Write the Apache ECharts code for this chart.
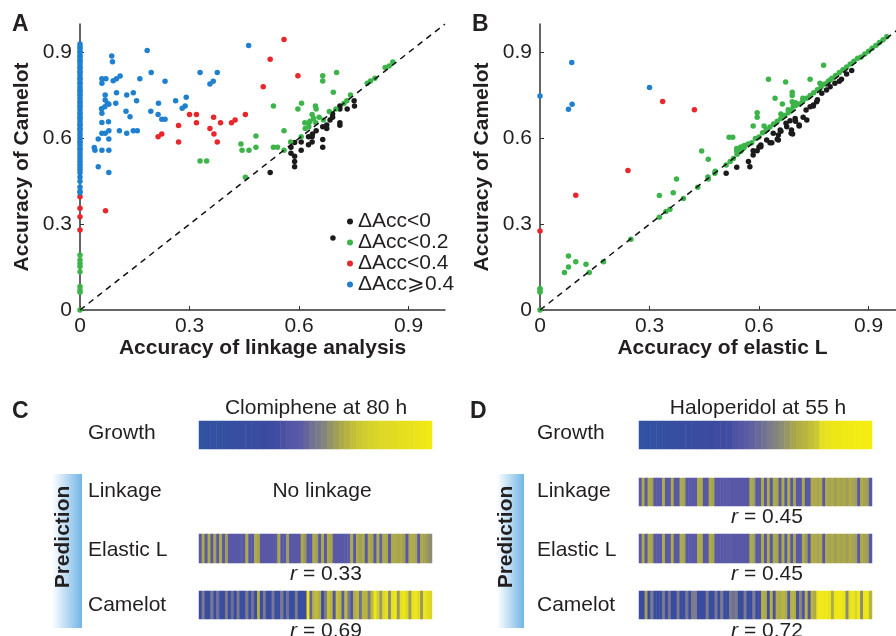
<!DOCTYPE html>
<html>
<head>
<meta charset="UTF-8">
<title>Camelot accuracy</title>
<script src="https://cdn.jsdelivr.net/npm/echarts@6/dist/echarts.min.js"></script>
<style>
  body { margin: 0; background: #fff; }
  #main { width: 896px; height: 636px; }
</style>
</head>
<body>
<div id="main"></div>
<script>
  // ---- data ----
  var ticks = [0, 0.3, 0.6, 0.9];
  var legendNames = ['ΔAcc<0', 'ΔAcc<0.2', 'ΔAcc<0.4', 'ΔAcc⩾0.4'];
  var dotColors = ['#1b1b1b', '#3cb449', '#e8262b', '#1f80cf'];

  // panel A: linkage (x) vs Camelot (y)
  var aBlack = [[0.751,0.732],[0.752,0.713],[0.732,0.703],[0.712,0.703],[0.712,0.713],[0.692,0.685],[0.692,0.674],
    [0.685,0.664],[0.712,0.655],[0.712,0.646],[0.676,0.647],[0.676,0.635],[0.665,0.641],[0.647,0.627],[0.637,0.615],
    [0.636,0.606],[0.626,0.606],[0.636,0.587],[0.626,0.578],[0.606,0.587],[0.665,0.596],[0.665,0.569],[0.588,0.586],
    [0.578,0.569],[0.606,0.559],[0.578,0.548],[0.588,0.538],[0.588,0.519],[0.588,0.501],[0.521,0.481],[0.693,0.252]];
  var aGreen = [[0,0.192],[0,0.175],[0,0.163],[0,0.152],[0,0.134],[0,0.082],[0,0.07],[0,0.062],[0,0],
    [0.329,0.521],[0.347,0.521],[0.453,0.464],[0.441,0.58],[0.444,0.559],[0.463,0.559],[0.482,0.608],[0.482,0.569],
    [0.53,0.713],[0.53,0.569],[0.541,0.569],[0.559,0.559],[0.559,0.627],[0.577,0.587],[0.597,0.703],[0.607,0.723],
    [0.606,0.606],[0.616,0.655],[0.617,0.635],[0.627,0.655],[0.627,0.641],[0.636,0.684],[0.645,0.713],[0.647,0.703],
    [0.646,0.655],[0.655,0.674],[0.667,0.664],[0.64,0.67],[0.63,0.66],[0.665,0.819],[0.665,0.801],[0.683,0.694],
    [0.694,0.761],[0.701,0.703],[0.703,0.83],[0.723,0.722],[0.731,0.732],[0.741,0.752],[0.787,0.793],[0.796,0.801],
    [0.808,0.81],[0.836,0.848],[0.847,0.853],[0.857,0.867]];
  var aRed = [[0.559,0.946],[0.521,0.877],[0.597,0.819],[0.502,0.781],[0.3,0.684],[0.319,0.684],[0.319,0.655],
    [0.366,0.674],[0.385,0.655],[0.415,0.655],[0.425,0.664],[0.453,0.684],[0.27,0.645],[0.356,0.635],[0.367,0.615],
    [0.224,0.615],[0.214,0.606],[0.27,0.587],[0.376,0.587],[0.07,0.347],[0,0.396],[0,0.356],[0,0.326],[0,0.28]];
  var aBlue = [[0,0.93],[0,0.92],[0,0.915],[0,0.905],[0,0.9],[0,0.89],[0,0.885],[0,0.875],[0,0.87],[0,0.86],
    [0,0.85],[0,0.845],[0,0.835],[0,0.83],[0,0.82],[0,0.81],[0,0.805],[0,0.795],[0,0.79],[0,0.78],[0,0.77],
    [0,0.765],[0,0.755],[0,0.75],[0,0.74],[0,0.73],[0,0.725],[0,0.715],[0,0.71],[0,0.7],[0,0.69],[0,0.685],
    [0,0.675],[0,0.67],[0,0.66],[0,0.65],[0,0.645],[0,0.635],[0,0.63],[0,0.62],[0,0.61],[0,0.6],[0,0.59],
    [0,0.585],[0,0.575],[0,0.565],[0,0.56],[0,0.55],[0,0.54],[0,0.53],[0,0.52],[0,0.51],[0,0.5],[0,0.49],
    [0,0.48],[0,0.465],[0,0.45],[0,0.43],[0,0.415],[0,0.41],
    [0.087,0.888],[0.089,0.868],[0.184,0.907],[0.462,0.925],[0.195,0.83],[0.329,0.83],[0.376,0.83],[0.365,0.8],
    [0.356,0.79],[0.233,0.8],[0.164,0.809],[0.11,0.818],[0.1,0.809],[0.091,0.802],[0.06,0.809],[0.071,0.809],
    [0.06,0.793],[0.1,0.76],[0.069,0.752],[0.128,0.752],[0.146,0.76],[0.155,0.732],[0.069,0.734],[0.075,0.723],
    [0.079,0.719],[0.068,0.711],[0.059,0.704],[0.098,0.723],[0.215,0.723],[0.262,0.732],[0.291,0.744],[0.28,0.705],
    [0.288,0.713],[0.126,0.695],[0.194,0.695],[0.214,0.684],[0.224,0.667],[0.233,0.667],[0.137,0.676],[0.06,0.688],
    [0.06,0.656],[0.078,0.658],[0.079,0.627],[0.06,0.618],[0.069,0.618],[0.108,0.627],[0.128,0.618],[0.146,0.627],
    [0.157,0.627],[0.05,0.598],[0.079,0.598],[0.039,0.568],[0.041,0.559],[0.06,0.559],[0.079,0.559],[0.05,0.501],
    [0.079,0.481]];

  // panel B: elastic L (x) vs Camelot (y)
  var bBlack = [[0.51,0.478],[0.539,0.499],[0.571,0.519],[0.575,0.501],[0.584,0.542],[0.595,0.557],[0.605,0.577],
    [0.621,0.594],[0.635,0.585],[0.639,0.618],[0.653,0.612],[0.65,0.597],[0.658,0.629],[0.676,0.641],[0.674,0.653],
    [0.689,0.629],[0.692,0.615],[0.685,0.662],[0.699,0.67],[0.71,0.643],[0.721,0.674],[0.731,0.664],[0.729,0.699],
    [0.749,0.713],[0.758,0.728],[0.772,0.758],[0.785,0.769],[0.795,0.781],[0.808,0.793],[0.826,0.807],[0.854,0.837],
    [0.74,0.711],[0.749,0.717],[0.71,0.647],[0.688,0.618],[0.653,0.594],[0.63,0.585],[0.605,0.571],[0.584,0.557],
    [0.7,0.66],[0.66,0.625],[0.6,0.57],[0.76,0.735],[0.82,0.8],[0.84,0.825]];
  var bGreen = [[0,0.075],[0,0.07],[0,0.062],[0,0],[0.078,0.189],[0.078,0.15],[0.067,0.131],[0.098,0.169],
    [0.126,0.16],[0.135,0.131],[0.174,0.169],[0.249,0.247],[0.327,0.324],[0.327,0.4],[0.345,0.344],[0.356,0.352],
    [0.365,0.41],[0.374,0.458],[0.393,0.39],[0.432,0.429],[0.443,0.556],[0.461,0.527],[0.461,0.458],[0.479,0.478],
    [0.51,0.507],[0.521,0.519],[0.53,0.53],[0.518,0.604],[0.528,0.604],[0.539,0.565],[0.539,0.556],[0.557,0.565],
    [0.584,0.643],[0.595,0.674],[0.595,0.69],[0.614,0.643],[0.626,0.807],[0.644,0.74],[0.664,0.72],[0.673,0.797],
    [0.691,0.761],[0.691,0.75],[0.691,0.728],[0.694,0.713],[0.74,0.807],[0.777,0.856],[0.767,0.793],[0.795,0.804],
    [0.54,0.545],[0.55,0.555],[0.56,0.57],[0.57,0.58],[0.58,0.585],[0.59,0.6],[0.6,0.605],[0.61,0.62],[0.62,0.63],
    [0.63,0.64],[0.64,0.65],[0.65,0.66],[0.66,0.67],[0.67,0.68],[0.68,0.69],[0.69,0.7],[0.7,0.715],[0.71,0.72],
    [0.72,0.73],[0.73,0.74],[0.74,0.75],[0.75,0.76],[0.76,0.77],[0.77,0.78],[0.78,0.79],[0.79,0.8],[0.8,0.81],
    [0.81,0.82],[0.82,0.83],[0.83,0.84],[0.84,0.85],[0.85,0.86],[0.86,0.87],[0.87,0.88],[0.88,0.885],[0.89,0.895],
    [0.9,0.905],[0.91,0.915],[0.92,0.925],[0.93,0.935],[0.94,0.945],[0.95,0.955],[0.46,0.465],[0.48,0.485],
    [0.55,0.57],[0.56,0.575],[0.66,0.685],[0.68,0.7],[0.72,0.74],[0.7,0.725]];
  var bRed = [[0,0.276],[0.098,0.401],[0.241,0.488],[0.336,0.729],[0.423,0.7]];
  var bBlue = [[0,0.748],[0.087,0.865],[0.088,0.719],[0.078,0.702],[0.3,0.778]];

  // panels C and D: colour strips (0 = blue, 1 = yellow)
  var growthC = [0.04,0.05,0.06,0.07,0.08,0.09,0.1,0.11,0.12,0.13,0.14,0.16,0.18,0.2,0.25,0.3,0.33,0.35,0.4,0.46,
    0.5,0.53,0.58,0.62,0.66,0.7,0.74,0.78,0.8,0.82,0.84,0.86,0.87,0.88,0.9,0.91,0.92,0.94,0.96,0.98];
  var elasticC = [0.34,0.66,0.34,0.66,0.34,0.64,0.34,0.66,0.34,0.62,0.34,0.34,0.34,0.34,0.36,0.34,0.66,0.34,0.34,0.66,
    0.64,0.34,0.34,0.34,0.34,0.34,0.36,0.66,0.34,0.34,0.62,0.34,0.34,0.34,0.34,0.66,0.6,0.34,0.34,0.66,
    0.62,0.34,0.66,0.34,0.66,0.64,0.34,0.34,0.34,0.34,0.34,0.36,0.66,0.34,0.66,0.62,0.66,0.34,0.66,0.64,
    0.34,0.66,0.38,0.66,0.64,0.34,0.66,0.66,0.64,0.66,0.62,0.34,0.66,0.66,0.64,0.34,0.66,0.64,0.6,0.56];
  var camelotC = [0.15,0.5,0.15,0.12,0.48,0.15,0.45,0.12,0.15,0.5,0.12,0.45,0.15,0.5,0.12,0.15,0.5,0.12,0.45,0.15,
    0.68,0.12,0.5,0.15,0.12,0.48,0.15,0.12,0.5,0.15,0.45,0.12,0.1,0.5,0.12,0.1,0.15,0.95,0.4,0.7,
    0.72,0.66,0.2,0.5,0.75,0.7,0.3,0.75,0.7,0.35,0.72,0.5,0.3,0.68,0.72,0.45,0.7,0.7,0.5,0.72,
    0.95,0.8,0.6,0.85,0.9,0.55,0.92,0.95,0.6,0.9,0.95,0.85,0.6,0.92,0.95,0.88,0.6,0.95,0.9,0.85];
  var growthD = [0.04,0.05,0.06,0.07,0.08,0.09,0.1,0.11,0.12,0.13,0.14,0.15,0.16,0.18,0.19,0.2,0.28,0.32,0.35,0.38,
    0.42,0.46,0.5,0.53,0.56,0.6,0.64,0.68,0.7,0.74,0.78,0.9,0.93,0.95,0.96,0.97,0.98,0.99,1,1];
  var linkageD = [0.34,0.66,0.34,0.66,0.64,0.34,0.34,0.34,0.66,0.34,0.34,0.66,0.34,0.34,0.66,0.64,0.34,0.34,0.34,0.34,
    0.66,0.66,0.34,0.34,0.66,0.64,0.34,0.34,0.34,0.34,0.34,0.34,0.34,0.34,0.34,0.34,0.34,0.34,0.66,0.62,
    0.34,0.34,0.66,0.34,0.66,0.34,0.66,0.64,0.34,0.66,0.34,0.66,0.34,0.64,0.34,0.34,0.66,0.34,0.34,0.66,
    0.66,0.64,0.66,0.34,0.66,0.64,0.66,0.62,0.66,0.64,0.66,0.62,0.66,0.64,0.62,0.34,0.66,0.64,0.62,0.34];
  var elasticD = [0.34,0.66,0.34,0.66,0.64,0.34,0.34,0.34,0.66,0.34,0.34,0.66,0.34,0.34,0.66,0.64,0.34,0.34,0.34,0.34,
    0.66,0.66,0.34,0.34,0.66,0.64,0.34,0.34,0.34,0.34,0.34,0.36,0.34,0.34,0.34,0.34,0.34,0.34,0.66,0.62,
    0.34,0.34,0.66,0.34,0.66,0.34,0.66,0.64,0.34,0.66,0.34,0.66,0.34,0.64,0.34,0.34,0.66,0.6,0.34,0.66,
    0.66,0.64,0.66,0.34,0.66,0.64,0.66,0.62,0.66,0.64,0.66,0.62,0.66,0.64,0.62,0.34,0.66,0.64,0.62,0.34];
  var camelotD = [0.15,0.12,0.62,0.15,0.5,0.12,0.15,0.12,0.5,0.15,0.48,0.12,0.15,0.5,0.12,0.15,0.48,0.12,0.5,0.5,
    0.15,0.12,0.15,0.5,0.12,0.15,0.48,0.12,0.5,0.15,0.12,0.5,0.45,0.5,0.12,0.15,0.5,0.12,0.15,0.5,
    0.15,0.2,0.68,0.66,0.2,0.7,0.25,0.68,0.66,0.7,0.66,0.3,0.7,0.68,0.25,0.55,0.3,0.7,0.3,0.7,
    0.66,0.95,0.97,0.95,0.96,0.92,0.68,0.95,0.97,0.95,0.93,0.55,0.9,0.96,0.85,0.95,0.55,0.96,0.95,0.7];

  var stripColors = ['#2f54a3', '#3c4a9f', '#5757a7', '#7b7b8c', '#aeac46', '#d9d52a', '#f5ed10'];
  var rowLabels = ['Growth', 'Linkage', 'Elastic L', 'Camelot'];
  var rC = ['0.33', '0.69'];
  var rD = ['0.45', '0.45', '0.72'];

  // ---- chart ----
  var FONT = "'Liberation Sans', Arial, sans-serif";
  var TXT = '#231f20';
  var chart = echarts.init(document.getElementById('main'));

  function valAxis(gridIndex, name, isY) {
    return {
      type: 'value', gridIndex: gridIndex, min: 0, max: 1,
      name: name, nameLocation: 'middle', nameGap: isY ? 47 : 28,
      nameTextStyle: { fontFamily: FONT, fontSize: 21, fontWeight: 'bold', color: TXT },
      axisLine: { show: true, lineStyle: { color: '#333', width: 1.5 } },
      axisTick: { show: true, inside: true, length: 4, customValues: ticks, lineStyle: { color: '#333' } },
      axisLabel: { customValues: ticks, fontFamily: FONT, fontSize: 21, color: TXT, margin: isY ? 8 : 6 },
      splitLine: { show: false }
    };
  }

  function scatters(sets, xi) {
    return sets.map(function (d, k) {
      return {
        type: 'scatter', name: legendNames[k], xAxisIndex: xi, yAxisIndex: xi, data: d,
        symbolSize: 5.5, clip: false, itemStyle: { color: dotColors[k], opacity: 1 }
      };
    });
  }

  function diag(xi) {
    return {
      type: 'line', xAxisIndex: xi, yAxisIndex: xi, data: [[0, 0], [1, 1]], symbol: 'none', silent: true,
      lineStyle: { color: '#111', width: 1.5, type: [6, 5] }
    };
  }

  // strips: [values, left, top, height]
  var strips = [
    [growthC, 199, 421, 28], [elasticC, 199, 534, 29], [camelotC, 199, 591, 28],
    [growthD, 639, 421, 28], [linkageD, 639, 478, 28], [elasticD, 639, 534, 29], [camelotD, 639, 591, 28]
  ];

  var grids = [
    { left: 80, top: 24, width: 365, height: 286, outerBoundsMode: 'none' },
    { left: 540, top: 24, width: 365, height: 286, outerBoundsMode: 'none' }
  ];
  var xAxes = [valAxis(0, 'Accuracy of linkage analysis', false), valAxis(1, 'Accuracy of elastic L', false)];
  var yAxes = [valAxis(0, 'Accuracy of Camelot', true), valAxis(1, 'Accuracy of Camelot', true)];
  var series = [diag(0)].concat(scatters([aBlack, aGreen, aRed, aBlue], 0))
    .concat([diag(1)]).concat(scatters([bBlack, bGreen, bRed, bBlue], 1));

  var heatIdx = [];
  strips.forEach(function (s, k) {
    var g = k + 2;
    grids.push({ left: s[1], top: s[2], width: 233, height: s[3], outerBoundsMode: 'none' });
    xAxes.push({ type: 'category', gridIndex: g, data: s[0].map(function (v, i) { return i; }), show: false });
    yAxes.push({ type: 'category', gridIndex: g, data: ['v'], show: false });
    heatIdx.push(series.length);
    series.push({
      type: 'heatmap', xAxisIndex: g, yAxisIndex: g, silent: true,
      data: s[0].map(function (v, i) { return [i, 0, v]; })
    });
  });

  function text(x, y, str, size, opt) {
    opt = opt || {};
    return {
      type: 'text', x: x, y: y, rotation: opt.rot || 0, silent: true, z: 10,
      style: {
        text: str, fill: TXT, fontFamily: FONT, fontSize: size, fontWeight: opt.bold ? 'bold' : 'normal',
        align: opt.align || 'left', verticalAlign: 'middle', rich: opt.rich
      }
    };
  }
  function rText(cx, cy, val) {
    return text(cx, cy, '{i|r} = ' + val, 21, {
      align: 'center',
      rich: { i: { fontStyle: 'italic', fontFamily: FONT, fontSize: 21, fill: TXT } }
    });
  }
  function predBox(x, w, tx) {
    return [
      {
        type: 'rect', shape: { x: x, y: 474, width: w, height: 154 }, silent: true, z: 5,
        style: { fill: new echarts.graphic.LinearGradient(0, 0, 1, 0, [
          { offset: 0, color: '#ffffff' }, { offset: 1, color: '#72b5e6' }]) }
      },
      text(tx, 537, 'Prediction', 21, { bold: true, align: 'center', rot: Math.PI / 2 })
    ];
  }

  var graphics = [
    text(12, 25, 'A', 23, { bold: true }), text(472, 25, 'B', 23, { bold: true }),
    text(12, 412, 'C', 23, { bold: true }), text(470, 412, 'D', 23, { bold: true }),
    text(316, 408, 'Clomiphene at 80 h', 21, { align: 'center' }),
    text(758, 408, 'Haloperidol at 55 h', 21, { align: 'center' }),
    text(322, 491, 'No linkage', 21, { align: 'center' }),
    rText(326, 574, rC[0]), rText(326, 631, rC[1]),
    rText(767, 517, rD[0]), rText(767, 574, rD[1]), rText(767, 631, rD[2])
  ].concat(predBox(52, 30, 63)).concat(predBox(497, 27, 506));
  [433, 491, 550, 605].forEach(function (y, i) {
    graphics.push(text(88, y, rowLabels[i], 21));
    graphics.push(text(537, y, rowLabels[i], 21));
  });

  chart.setOption({
    animation: false,
    backgroundColor: '#fff',
    textStyle: { fontFamily: FONT },
    grid: grids,
    xAxis: xAxes,
    yAxis: yAxes,
    legend: {
      data: legendNames, orient: 'vertical', left: 347, top: 211, padding: 0,
      itemWidth: 6, itemHeight: 6, itemGap: 0, icon: 'circle', selectedMode: false,
      textStyle: { fontFamily: FONT, fontSize: 21, color: TXT, lineHeight: 18 }
    },
    visualMap: {
      type: 'continuous', show: false, min: 0, max: 1, seriesIndex: heatIdx,
      inRange: { color: stripColors }
    },
    graphic: graphics,
    series: series
  });
</script>
</body>
</html>
